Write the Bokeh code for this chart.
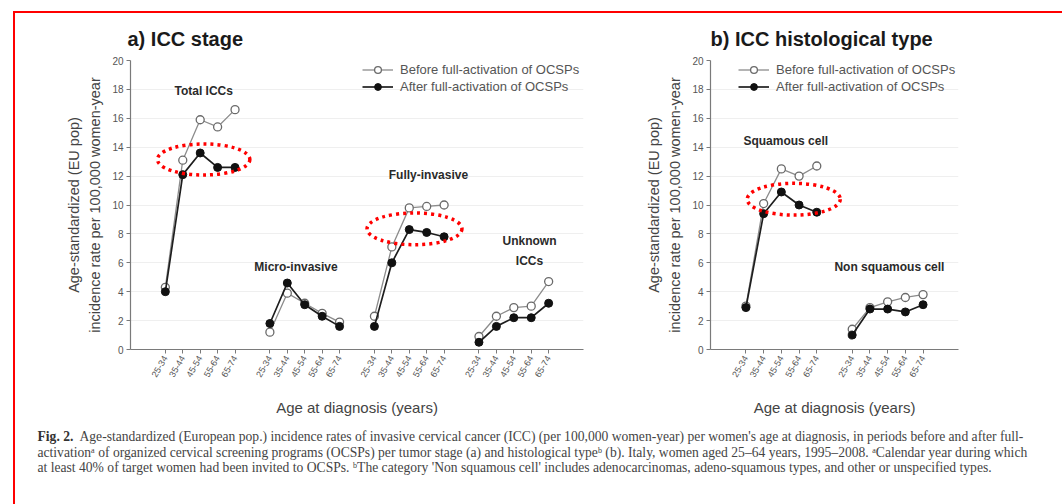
from bokeh.plotting import figure
from bokeh.models import (Range1d, FixedTicker, Legend, LegendItem, Label)
from bokeh.layouts import column, row
from bokeh.embed import file_html
from bokeh.resources import INLINE

# ---- data: age-standardized incidence per 100,000 women-year ----
age_groups = ["25-34", "35-44", "45-54", "55-64", "65-74"]

stage_names = ["Total ICCs", "Micro-invasive", "Fully-invasive", "Unknown ICCs"]
total_before = [4.3, 13.1, 15.9, 15.4, 16.6]
total_after = [4.0, 12.1, 13.6, 12.6, 12.6]
micro_before = [1.2, 3.9, 3.2, 2.5, 1.9]
micro_after = [1.8, 4.6, 3.1, 2.3, 1.6]
fully_before = [2.3, 7.1, 9.8, 9.9, 10.0]
fully_after = [1.6, 6.0, 8.3, 8.1, 7.8]
unknown_before = [0.9, 2.3, 2.9, 3.0, 4.7]
unknown_after = [0.5, 1.6, 2.2, 2.2, 3.2]

hist_names = ["Squamous cell", "Non squamous cell"]
squamous_before = [3.0, 10.1, 12.5, 12.0, 12.7]
squamous_after = [2.9, 9.4, 10.9, 10.0, 9.5]
nonsq_before = [1.4, 2.9, 3.3, 3.6, 3.8]
nonsq_after = [1.0, 2.8, 2.8, 2.6, 3.1]

before_label = "Before full-activation of OCSPs"
after_label = "After full-activation of OCSPs"

caption_lines = [
    "Age-standardized (European pop.) incidence rates of invasive cervical cancer (ICC) (per 100,000 women-year) per women's age at diagnosis, in periods before and after full-",
    "activation\u1d43 of organized cervical screening programs (OCSPs) per tumor stage (a) and histological type\u1d47 (b). Italy, women aged 25\u201364 years, 1995\u20132008. \u1d43Calendar year during which",
    "at least 40% of target women had been invited to OCSPs. \u1d47The category 'Non squamous cell' includes adenocarcinomas, adeno-squamous types, and other or unspecified types.",
]

SANS = "Liberation Sans"
GREY_TXT = "#555555"
AXIS_GREY = "#7a7a7a"
GAP = 6  # slots per age block (5 ages + 1 blank)


def make_panel(title, blocks, x_end, width, border_left, border_right, title_offset):
    p = figure(width=width, height=412, x_range=Range1d(-2, x_end), y_range=Range1d(0, 20),
               min_border_left=border_left, min_border_right=border_right,
               min_border_top=47, min_border_bottom=76,
               toolbar_location=None, output_backend="svg")
    p.outline_line_color = None
    p.background_fill_color = "white"
    p.border_fill_color = "white"

    p.title.text = title
    p.title.text_font = SANS
    p.title.text_font_size = "20px"
    p.title.text_font_style = "bold"
    p.title.text_color = "#1a1a1a"
    p.title.align = "left"
    p.title.offset = title_offset
    p.title.standoff = 22

    ticks, overrides = [], {}
    renderers = {}
    for b, (before, after) in enumerate(blocks):
        xs = [b * GAP + i for i in range(len(age_groups))]
        for x, lab in zip(xs, age_groups):
            ticks.append(x)
            overrides[x] = lab
        lb = p.line(xs, before, line_color="#8c8c8c", line_width=1.3)
        sb = p.scatter(xs, before, marker="circle", size=8, fill_color="white",
                       line_color="#6a6a6a", line_width=1.3)
        la = p.line(xs, after, line_color="#1e1e1e", line_width=1.7)
        sa = p.scatter(xs, after, marker="circle", size=8, fill_color="#111111",
                       line_color="#111111", line_width=1)
        if b == 0:
            renderers = dict(before=[lb, sb], after=[la, sa])

    xa = p.xaxis[0]
    xa.ticker = FixedTicker(ticks=ticks)
    xa.major_label_overrides = {k: v for k, v in overrides.items()}
    xa.major_label_orientation = 1.05
    xa.major_label_text_font = SANS
    xa.major_label_text_font_size = "9px"
    xa.major_label_text_color = GREY_TXT
    xa.axis_label = "Age at diagnosis (years)"
    xa.axis_label_text_font = SANS
    xa.axis_label_text_font_size = "15px"
    xa.axis_label_text_font_style = "normal"
    xa.axis_label_text_color = "#444444"
    xa.axis_label_standoff = 17
    xa.minor_tick_line_color = None

    ya = p.yaxis[0]
    ya.ticker = FixedTicker(ticks=list(range(0, 21, 2)))
    ya.major_label_text_font = SANS
    ya.major_label_text_font_size = "10px"
    ya.major_label_text_color = GREY_TXT
    ya.axis_label = "Age-standardized (EU pop)\nincidence rate per 100,000 women-year"
    ya.axis_label_text_font = SANS
    ya.axis_label_text_font_size = "14.5px"
    ya.axis_label_text_font_style = "normal"
    ya.axis_label_text_color = "#444444"
    ya.axis_label_text_line_height = 1.35
    ya.axis_label_standoff = 6
    ya.minor_tick_line_color = None

    for ax in (xa, ya):
        ax.axis_line_color = AXIS_GREY
        ax.axis_line_width = 1.2
        ax.major_tick_line_color = AXIS_GREY
        ax.major_tick_out = 4
        ax.major_tick_in = 0
        ax.major_label_standoff = 3

    p.xgrid.visible = False
    p.ygrid.grid_line_color = "#efefef"
    p.ygrid.grid_line_width = 1

    return p, renderers


def add_legend(p, renderers, x, y):
    leg = Legend(items=[LegendItem(label=before_label, renderers=renderers["before"]),
                        LegendItem(label=after_label, renderers=renderers["after"])],
                 location=(x, y))
    leg.border_line_color = None
    leg.background_fill_alpha = 0
    leg.padding = 0
    leg.margin = 0
    leg.spacing = 0
    leg.glyph_width = 31
    leg.glyph_height = 17
    leg.label_height = 17
    leg.label_standoff = 7
    leg.label_text_font = SANS
    leg.label_text_font_size = "13px"
    leg.label_text_color = GREY_TXT
    p.add_layout(leg)


def note(p, text, x, y):
    p.add_layout(Label(x=x, y=y, text=text, text_font=SANS, text_font_size="12px",
                       text_font_style="bold", text_color="#2a2a2a",
                       text_align="center", text_baseline="middle"))


def highlight(p, cx, cy, w, h):
    p.ellipse(x=[cx], y=[cy], width=w, height=h, fill_color=None,
              line_color="#ff0000", line_width=3.5, line_dash="3 4")


# ---- panel a: ICC stage ----
pa, ra = make_panel("a) ICC stage",
                    [(total_before, total_after), (micro_before, micro_after),
                     (fully_before, fully_after), (unknown_before, unknown_after)],
                    x_end=24, width=585, border_left=115, border_right=17, title_offset=-3)
add_legend(pa, ra, 232, 254)
note(pa, stage_names[0], 2.2, 17.9)
note(pa, stage_names[1], 7.5, 5.7)
note(pa, stage_names[2], 15.1, 12.1)
note(pa, "Unknown", 20.9, 7.5)
note(pa, "ICCs", 20.9, 6.1)
highlight(pa, 2.2, 13.15, 5.3, 2.15)
highlight(pa, 14.3, 8.35, 5.45, 2.2)

# ---- panel b: ICC histological type ----
pb, rb = make_panel("b) ICC histological type",
                    [(squamous_before, squamous_after), (nonsq_before, nonsq_after)],
                    x_end=12, width=462, border_left=110, border_right=104, title_offset=0)
add_legend(pb, rb, 28, 254)
note(pb, hist_names[0], 2.25, 14.4)
note(pb, hist_names[1], 8.1, 5.7)
highlight(pb, 2.7, 10.4, 5.25, 2.2)

# ---- caption ----
pc = figure(width=1047, height=79, x_range=Range1d(0, 1047), y_range=Range1d(79, 0),
            min_border=0, x_axis_location=None, y_axis_location=None,
            toolbar_location=None, output_backend="svg")
pc.grid.visible = False
pc.outline_line_color = None
SERIF = "Liberation Serif"
CAP_SIZE = "13.6px"
pc.add_layout(Label(x=22, y=11, text="Fig. 2.", text_font=SERIF, text_font_size=CAP_SIZE,
                    text_font_style="bold", text_color="#333333", text_baseline="middle"))
for i, line in enumerate(caption_lines):
    pc.add_layout(Label(x=(64 if i == 0 else 22), y=11 + 15.5 * i, text=line,
                        text_font=SERIF, text_font_size=CAP_SIZE, text_color="#444444",
                        text_baseline="middle"))

layout = column(row(pa, pb), pc, margin=(11, 0, 0, 13),
                styles={"border-top": "2px solid #ff0000", "border-left": "2px solid #ff0000"})

open("out.html", "w").write(file_html(layout, INLINE))
